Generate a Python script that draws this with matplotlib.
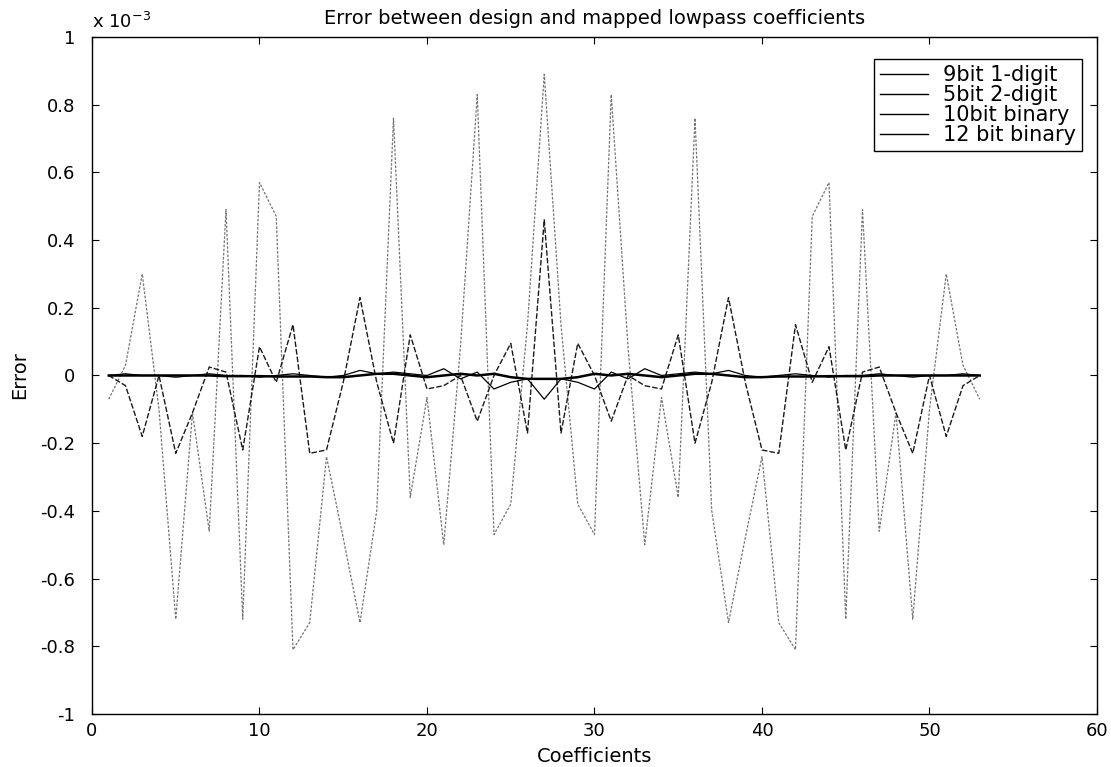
import matplotlib
matplotlib.use('Agg')
import matplotlib.pyplot as plt
from matplotlib.lines import Line2D

plt.rcParams['font.family'] = ['DejaVu Sans']
plt.rcParams['font.size'] = 13

# coefficient index 1..53, error values in units of 1e-3
coef = list(range(1, 54))

err_9bit_1digit = [-0.07, 0.03, 0.30, -0.10, -0.72, -0.11, -0.46, 0.49, -0.72, 0.57,
                   0.47, -0.81, -0.73, -0.24, -0.48, -0.73, -0.40, 0.76, -0.36, -0.065,
                   -0.50, 0.085, 0.83, -0.47, -0.38, 0.15, 0.89,
                   0.15, -0.38, -0.47, 0.83, 0.085, -0.50, -0.065, -0.36, 0.76,
                   -0.40, -0.73, -0.48, -0.24, -0.73, -0.81, 0.47, 0.57, -0.72,
                   0.49, -0.46, -0.11, -0.72, -0.10, 0.30, 0.03, -0.07]

err_5bit_2digit = [0.0, 0.0, 0.0, 0.0, 0.0, 0.0, 0.0, -0.002, -0.002, -0.002,
                   -0.003, -0.003, -0.003, -0.005, -0.005, 0.0, 0.005, 0.005, 0.0, -0.005,
                   0.0, 0.005, 0.0, 0.005, -0.005, -0.01, -0.01,
                   -0.01, -0.005, 0.005, 0.0, 0.005, 0.0, -0.005, 0.0, 0.005,
                   0.005, 0.0, -0.005, -0.005, -0.003, -0.003, -0.003, -0.002, -0.002,
                   -0.002, 0.0, 0.0, 0.0, 0.0, 0.0, 0.0, 0.0]

err_10bit = [0.0, -0.03, -0.18, 0.0, -0.23, -0.11, 0.025, 0.01, -0.22, 0.085,
             -0.02, 0.15, -0.23, -0.22, -0.02, 0.23, -0.02, -0.20, 0.12, -0.04,
             -0.03, 0.0, -0.135, 0.0, 0.095, -0.17, 0.46,
             -0.17, 0.095, 0.0, -0.135, 0.0, -0.03, -0.04, 0.12, -0.20,
             -0.02, 0.23, -0.02, -0.22, -0.23, 0.15, -0.02, 0.085, -0.22,
             0.01, 0.025, -0.11, -0.23, 0.0, -0.18, -0.03, 0.0]

err_12bit = [0.0, 0.005, 0.0, 0.0, -0.005, 0.0, 0.005, 0.0, 0.0, -0.005,
             0.0, 0.005, 0.0, -0.005, 0.0, 0.015, 0.005, 0.01, 0.005, 0.0,
             0.02, -0.01, 0.01, -0.04, -0.02, -0.01, -0.07,
             -0.01, -0.02, -0.04, 0.01, -0.01, 0.02, 0.0, 0.005, 0.01,
             0.005, 0.015, 0.0, -0.005, 0.0, 0.005, 0.0, -0.005, 0.0,
             0.0, 0.005, 0.0, -0.005, 0.0, 0.0, 0.005, 0.0]

labels = ['9bit 1-digit', '5bit 2-digit', '10bit binary', '12 bit binary']
xticks = [0, 10, 20, 30, 40, 50, 60]
yticks = [-1, -0.8, -0.6, -0.4, -0.2, 0, 0.2, 0.4, 0.6, 0.8, 1]
ytick_labels = ['-1', '-0.8', '-0.6', '-0.4', '-0.2', '0', '0.2', '0.4', '0.6', '0.8', '1']

fig = plt.figure(figsize=(11.11, 7.67), dpi=100)
ax = fig.add_axes([0.0828, 0.0691, 0.9046, 0.8827])

# faint dithered looking lines first, thick near-zero one on top
ax.plot(coef, err_9bit_1digit, color='0.45', lw=0.9, ls=(0, (2, 1.3)), zorder=2)
ax.plot(coef, err_10bit, color='0.1', lw=1.0, ls=(0, (4, 1.5)), zorder=3)
ax.plot(coef, err_12bit, color='black', lw=0.9, zorder=4)
ax.plot(coef, err_5bit_2digit, color='black', lw=1.8, zorder=5)

ax.set_xlim(0, 60)
ax.set_ylim(-1, 1)
ax.set_xticks(xticks)
ax.set_yticks(yticks)
ax.set_yticklabels(ytick_labels)
ax.tick_params(direction='in', top=True, right=True, length=5, labelsize=13)
ax.tick_params(axis='y', pad=12)
ax.tick_params(axis='x', pad=6)
for s in ax.spines.values():
    s.set_linewidth(1.0)

ax.set_title('Error between design and mapped lowpass coefficients', fontsize=14, pad=9)
ax.set_xlabel('Coefficients', fontsize=14, labelpad=5)
ax.set_ylabel('Error', fontsize=14, labelpad=8)
ax.text(0.0, 1.008, r'x 10$^{-3}$', transform=ax.transAxes, fontsize=13,
        ha='left', va='bottom')

handles = [Line2D([0], [0], color='black', lw=1.0) for _ in labels]
leg = ax.legend(handles, labels, loc='upper right', bbox_to_anchor=(0.985, 0.9675),
                borderaxespad=0, fancybox=False, framealpha=1, edgecolor='black',
                handlelength=2.3, handletextpad=0.7, labelspacing=0.0,
                borderpad=0.3, fontsize=15)
leg.get_frame().set_linewidth(1.0)

fig.savefig('out.png', dpi=100)
